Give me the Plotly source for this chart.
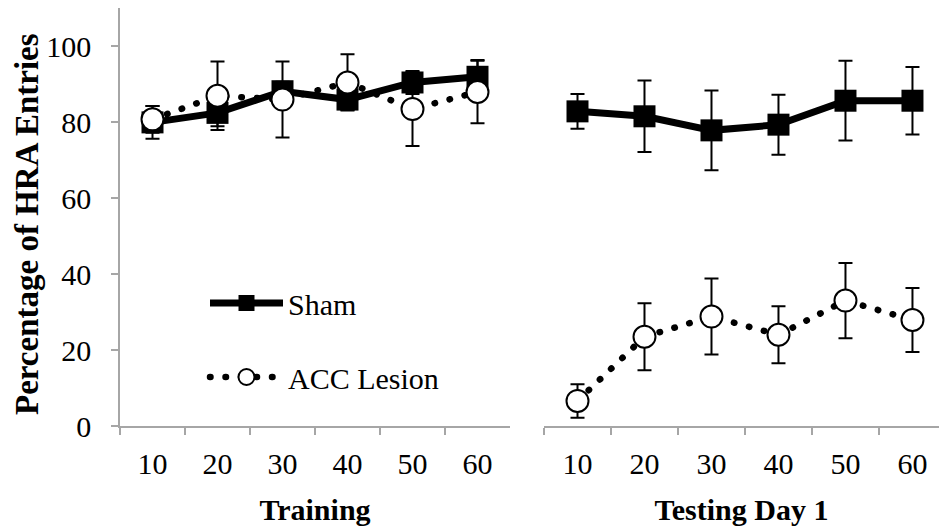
import plotly.graph_objects as go

# Session blocks (minutes)
blocks = ["10", "20", "30", "40", "50", "60"]

# Training phase: mean % HRA entries and SEM
train_sham = [79.9, 82.4, 88.1, 85.9, 90.4, 91.9]
train_sham_err = [4.3, 3.5, 2.5, 2.7, 3.0, 4.4]
train_acc = [80.7, 86.9, 85.9, 90.4, 83.4, 87.9]
train_acc_err = [3.5, 9.0, 10.0, 7.4, 9.7, 8.2]

# Testing day 1
test_sham = [82.8, 81.5, 77.8, 79.3, 85.6, 85.6]
test_sham_err = [4.6, 9.4, 10.5, 7.9, 10.5, 8.9]
test_acc = [6.6, 23.5, 28.8, 24.0, 33.0, 27.9]
test_acc_err = [4.4, 8.8, 10.0, 7.5, 9.9, 8.4]

W, H = 939, 527
FONT = "Liberation Serif, Times New Roman, serif"
AXIS_GREY = "#A6A6A6"


def sham_trace(y, err, xaxis, show, legend="legend"):
    return go.Scatter(
        x=blocks, y=y, xaxis=xaxis, yaxis="y",
        name="Sham", showlegend=show, legend=legend,
        mode="lines+markers",
        line=dict(color="black", width=7),
        marker=dict(symbol="square", size=22, color="black"),
        error_y=dict(type="data", array=err, visible=True,
                     color="black", thickness=2, width=7),
    )


def acc_trace(y, err, xaxis, show, legend="legend2"):
    return go.Scatter(
        x=blocks, y=y, xaxis=xaxis, yaxis="y",
        name="ACC Lesion", showlegend=show, legend=legend,
        mode="lines+markers",
        line=dict(color="black", width=6.5, dash="0.5px,15px"),
        marker=dict(symbol="circle", size=22, color="white",
                    line=dict(color="black", width=2)),
        error_y=dict(type="data", array=err, visible=True,
                     color="black", thickness=2, width=7),
    )


fig = go.Figure()
fig.add_trace(sham_trace(train_sham, train_sham_err, "x", True))
fig.add_trace(acc_trace(train_acc, train_acc_err, "x", True))
fig.add_trace(sham_trace(test_sham, test_sham_err, "x2", False))
fig.add_trace(acc_trace(test_acc, test_acc_err, "x2", False))

px_x = lambda p: p / W
px_y = lambda p: 1 - p / H

common_x = dict(
    type="category", showline=True, linecolor=AXIS_GREY, linewidth=1.5,
    ticks="outside", tickson="boundaries", ticklen=7, tickwidth=1.5,
    tickcolor=AXIS_GREY, showgrid=False, zeroline=False,
    tickfont=dict(family=FONT, size=30, color="black"),
    ticklabelstandoff=10,
    title_font=dict(family=FONT, size=30, color="black"),
    anchor="y", automargin=False,
)

legend_style = dict(xanchor="left", yanchor="middle", itemwidth=73,
                    bgcolor="rgba(0,0,0,0)", borderwidth=0,
                    font=dict(family=FONT, size=30, color="black"))

fig.update_layout(
    width=W, height=H, autosize=False,
    margin=dict(l=0, r=0, t=0, b=0),
    paper_bgcolor="white", plot_bgcolor="white",
    font=dict(family=FONT, color="black"),
    xaxis=dict(common_x, domain=[px_x(120), px_x(510)], range=[-0.5, 5.5],
               title=dict(text="<b>Training</b>", standoff=20)),
    xaxis2=dict(common_x, domain=[px_x(544), 1.0], range=[-0.5, 5.396],
                title=dict(text="<b>Testing Day 1</b>", standoff=20)),
    yaxis=dict(
        domain=[px_y(426), px_y(8)], range=[0, 110],
        tickmode="array", tickvals=[0, 20, 40, 60, 80, 100],
        showline=True, linecolor=AXIS_GREY, linewidth=1.5,
        ticks="outside", ticklen=7, tickwidth=1.5, tickcolor=AXIS_GREY,
        showgrid=False, zeroline=False, anchor="x", automargin=False,
        tickfont=dict(family=FONT, size=30, color="black"),
        ticklabelstandoff=14,
    ),
    legend=dict(legend_style, x=px_x(205), y=px_y(303)),
    legend2=dict(legend_style, x=px_x(205), y=px_y(377)),
)

# Vertical y-axis title, placed to the left of the tick labels
fig.add_annotation(
    text="<b>Percentage of HRA Entries</b>", textangle=-90,
    xref="paper", yref="paper", x=px_x(27), y=px_y(224),
    xanchor="center", yanchor="middle", showarrow=False,
    font=dict(family=FONT, size=33, color="black"),
)

# Round line caps turn the short dashes of the dotted series into dots.
round_dots = """
var gd = document.getElementById('{plot_id}');
function roundCaps() {
  gd.querySelectorAll('path').forEach(function (p) {
    var d = p.style.strokeDasharray;
    if (d && d !== 'none') { p.style.strokeLinecap = 'round'; }
  });
}
roundCaps();
gd.on('plotly_afterplot', roundCaps);
"""

fig.write_html("out.html", post_script=round_dots,
               config={"displayModeBar": False})
